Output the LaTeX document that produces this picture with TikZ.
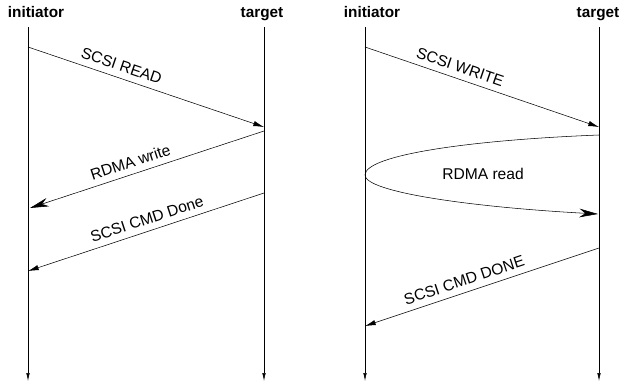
\documentclass[tikz,border=0pt]{standalone}
\usepackage{fontspec}
\setmainfont{Liberation Sans}
\usetikzlibrary{arrows,arrows.meta}

\begin{document}
\begin{tikzpicture}[x=0.75pt,y=-0.75pt,thin,
      font=\fontsize{11.7}{13}\selectfont,
      title node/.style={font=\fontsize{11.5}{13}\selectfont\bfseries,anchor=base},
      life line/.style={-{Latex[length=6pt,width=2.6pt]}},
      small msg/.style={-{Latex[length=8pt,width=4pt]}},
      big msg/.style={-{Stealth[length=14pt,width=6.5pt,inset=4.5pt]}},
      msg label/.style={sloped,above=3.7pt,inner sep=1pt}]
    \useasboundingbox (0,0) rectangle (621,383);
    % SCSI read
    \node[title node] (I1) at (36,17) {initiator};
    \node[title node] (T1) at (262,17) {target};
    \coordinate (I1top) at (28,27);  \coordinate (I1bot) at (28,381);
    \coordinate (T1top) at (264,27); \coordinate (T1bot) at (264,381);
    \coordinate (r1) at (28,47);  \coordinate (r2) at (264,127);
    \coordinate (r3) at (264,131); \coordinate (r4) at (30,208);
    \coordinate (r5) at (264,193); \coordinate (r6) at (28,271);
    \draw[life line] (I1top) -- (I1bot);
    \draw[life line] (T1top) -- (T1bot);
         \path (r1) edge [small msg] node [msg label,pos=0.38] {SCSI READ} (r2)
               (r3) edge [big msg] node [msg label,pos=0.555,above=0pt] {RDMA write} (r4)
               (r5) edge [small msg] node [msg label,pos=0.48] {SCSI CMD Done} (r6);
    % SCSI write
    \node[title node] (I2) at (372,17) {initiator};
    \node[title node] (T2) at (598,17) {target};
    \coordinate (I2top) at (365,27);  \coordinate (I2bot) at (365,381);
    \coordinate (T2top) at (599,27); \coordinate (T2bot) at (599,381);
    \coordinate (w1) at (365,47);  \coordinate (w2) at (599,127);
    \coordinate (w3) at (599,135); \coordinate (w4) at (365,175);
    \coordinate (w5) at (598,214);
    \coordinate (w6) at (599,248); \coordinate (w7) at (365,326);
    \draw[life line] (I2top) -- (I2bot);
    \draw[life line] (T2top) -- (T2bot);
         \path (w1) edge [small msg] node [msg label,pos=0.39] {SCSI WRITE} (w2)
               (w6) edge [small msg] node [msg label,pos=0.56] {SCSI CMD DONE} (w7);
    \draw[big msg] (w3) .. controls (470,140) and (365,155) .. (w4)
                        .. controls (365,192) and (470,207) .. (w5);
    \node (RR) at (483,174) {RDMA read};
  \end{tikzpicture}
\end{document}
